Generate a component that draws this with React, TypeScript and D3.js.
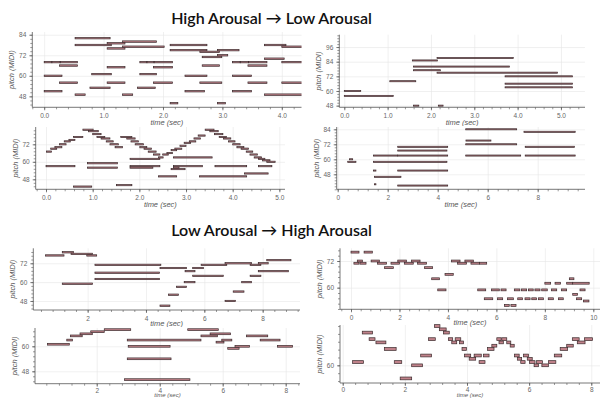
import React, { useEffect, useRef } from 'react';
import * as d3 from 'd3';

type Note = [number, number, number]; // start (sec), end (sec), pitch (MIDI)

// High -> Low arousal, top-left
const hlA: Note[] = [
  [0.52, 1.11, 82], [1.06, 1.36, 79], [1.32, 1.89, 80],
  [0.52, 1.13, 78], [2.12, 2.74, 78], [3.71, 4.07, 78],
  [1.32, 2.02, 77], [4.0, 4.4, 77], [1.06, 1.36, 76],
  [2.12, 2.74, 75], [2.92, 3.28, 75], [2.62, 2.95, 74],
  [2.92, 3.09, 72], [2.66, 2.99, 71], [3.71, 4.04, 70],
  [0, 0.13, 68], [0.13, 0.27, 68], [0.27, 0.56, 68],
  [1.61, 1.73, 68], [1.73, 1.85, 68], [1.85, 2.16, 68],
  [3.17, 3.3, 68], [3.3, 3.44, 68], [3.44, 3.75, 68], [4.0, 4.4, 68],
  [0.26, 0.56, 66], [2.66, 2.95, 66], [3.43, 3.75, 66],
  [1.06, 1.36, 65], [1.84, 2.16, 65],
  [0.8, 1.13, 61], [1.61, 1.89, 61],
  [0, 0.3, 60], [2.37, 2.74, 60], [3.17, 3.49, 60],
  [0.26, 0.56, 56], [1.06, 1.36, 56], [1.84, 2.16, 56], [2.62, 2.99, 56], [3.43, 3.75, 56], [4.0, 4.4, 56],
  [0.77, 1.11, 53], [1.57, 1.87, 53],
  [0, 0.3, 51], [2.37, 2.7, 51], [3.17, 3.49, 51],
  [0.52, 0.69, 49], [1.32, 1.49, 49], [3.71, 4.4, 49],
  [2.12, 2.25, 44], [2.92, 3.05, 44],
];

// High -> Low arousal, top-right
const hlB: Note[] = [
  [0, 0.38, 60], [0, 1.13, 56], [1.05, 1.65, 68],
  [1.6, 1.72, 48], [2.17, 2.28, 48],
  [1.57, 2.15, 85], [2.14, 3.9, 87], [1.6, 3.81, 80], [1.6, 2.22, 77],
  [2.14, 4.92, 75], [3.71, 5.27, 72], [3.71, 5.27, 66], [3.71, 5.27, 63],
];

// High -> Low arousal, middle-left
const hlC: Note[] = [
  [0.01, 0.12, 67], [0.1, 0.23, 69], [0.19, 0.34, 70], [0.29, 0.43, 72],
  [0.39, 0.52, 74], [0.49, 0.62, 75], [0.59, 0.79, 77], [0.79, 1.01, 82],
  [0.91, 1.12, 81], [1.0, 1.18, 79], [1.09, 1.26, 77], [1.18, 1.37, 76],
  [1.29, 1.44, 74], [1.37, 1.55, 72], [1.48, 1.64, 70],
  [1.6, 1.84, 77], [1.73, 1.91, 76], [1.82, 1.98, 74], [1.91, 2.09, 72],
  [2.01, 2.16, 70], [2.1, 2.26, 69], [2.19, 2.36, 67], [2.3, 2.44, 65], [2.41, 2.51, 63],
  [2.5, 2.62, 65], [2.59, 2.71, 66], [2.68, 2.8, 68], [2.76, 2.91, 69],
  [2.87, 3.0, 71], [2.96, 3.1, 73], [3.07, 3.21, 74], [3.17, 3.31, 76],
  [3.26, 3.41, 78], [3.41, 3.6, 82],
  [3.51, 3.69, 81], [3.61, 3.79, 79], [3.71, 3.87, 77], [3.8, 3.96, 76],
  [3.91, 4.05, 74], [4.0, 4.16, 72], [4.09, 4.24, 70], [4.18, 4.34, 69],
  [4.29, 4.43, 67], [4.37, 4.53, 65], [4.46, 4.62, 63], [4.55, 4.69, 62],
  [4.64, 4.8, 61], [4.73, 4.91, 60],
  [0, 0.62, 57], [0.89, 1.53, 59], [0.89, 1.53, 56],
  [1.8, 2.44, 62], [1.8, 2.44, 57], [1.8, 2.29, 56],
  [2.73, 3.56, 63], [2.73, 3.35, 57], [2.73, 2.85, 56], [2.68, 2.98, 55],
  [2.41, 2.8, 50], [3.29, 4.3, 50], [4.25, 4.76, 52],
  [3.62, 4.3, 57], [4.55, 4.84, 57],
  [0.59, 0.98, 43], [1.51, 1.84, 44],
];

// High -> Low arousal, middle-right
const hlD: Note[] = [
  [0.47, 0.6, 60], [0.4, 0.73, 58],
  [1.43, 2.4, 63], [2.4, 4.4, 63], [1.43, 4.37, 58],
  [2.4, 4.4, 70], [2.4, 4.37, 67],
  [1.43, 1.53, 51], [2.4, 4.4, 51], [1.47, 2.53, 46],
  [1.47, 1.53, 40], [2.4, 4.4, 39],
  [5.12, 7.16, 84], [5.13, 6.13, 75], [5.12, 7.16, 72], [5.12, 7.32, 63],
  [7.45, 9.5, 82], [7.5, 9.47, 70], [7.5, 9.5, 63],
];

// Low -> High arousal, upper-left
const lhA: Note[] = [
  [0.56, 1.19, 77], [1.13, 1.51, 79], [1.43, 2.17, 78], [1.97, 2.31, 77],
  [2.25, 4.51, 71], [2.25, 4.46, 66], [2.25, 4.46, 62], [1.13, 2.17, 59],
  [4.48, 5.39, 69], [5.34, 5.68, 67], [5.6, 5.97, 69], [5.89, 6.77, 71],
  [5.6, 6.65, 64], [5.31, 5.68, 60], [5.05, 5.39, 57], [4.77, 5.11, 52],
  [4.48, 4.82, 45], [6.71, 7.62, 72], [6.71, 7.07, 48], [6.99, 7.36, 54],
  [7.28, 7.62, 60], [7.57, 7.94, 71], [7.57, 7.94, 64], [7.85, 8.19, 72],
  [7.85, 8.88, 67], [8.14, 8.97, 74],
];

// Low -> High arousal, upper-right
const lhB: Note[] = [
  [0, 0.33, 76], [0.12, 0.33, 71], [0.26, 0.47, 72], [0.37, 0.62, 71],
  [0.54, 0.88, 76], [0.83, 1.17, 72], [1.09, 1.47, 71], [1.38, 1.75, 69],
  [1.65, 2.0, 71], [1.93, 2.29, 72], [2.2, 2.57, 71], [2.5, 2.85, 72],
  [2.75, 3.12, 71], [3.03, 3.37, 69], [3.33, 3.65, 64], [3.58, 3.92, 59],
  [3.88, 4.22, 66], [4.15, 4.5, 72], [4.4, 4.77, 71], [4.7, 5.05, 72],
  [4.95, 5.3, 71], [5.3, 5.6, 71],
  [5.23, 5.56, 59], [5.5, 5.85, 55], [5.8, 6.12, 59], [6.05, 6.26, 55],
  [6.19, 6.4, 59], [6.33, 6.53, 52], [6.46, 6.7, 55], [6.6, 6.81, 52],
  [6.74, 6.97, 59], [6.88, 7.08, 55], [7.04, 7.25, 59], [7.18, 7.39, 55],
  [7.32, 7.52, 59], [7.46, 7.66, 55], [7.59, 7.8, 59], [7.73, 7.94, 55],
  [7.87, 8.1, 59], [8.0, 8.24, 62], [8.14, 8.35, 55], [8.28, 8.49, 59],
  [8.42, 8.65, 62], [8.56, 8.76, 55], [8.69, 8.9, 59], [8.9, 9.15, 62],
  [9.01, 9.2, 64], [9.15, 9.83, 62], [9.15, 9.35, 57], [9.31, 9.52, 55],
  [9.45, 9.66, 59], [9.59, 9.82, 54],
];

// Low -> High arousal, lower-left
const lhC: Note[] = [
  [0.44, 1.13, 61], [1.05, 1.23, 63], [1.17, 1.54, 65], [1.47, 1.86, 66],
  [1.81, 2.24, 67], [2.24, 3.08, 68], [2.97, 5.31, 63], [3.0, 4.33, 60],
  [2.97, 4.36, 54], [2.88, 4.96, 44], [4.89, 5.86, 68], [5.31, 5.83, 65],
  [5.6, 6.25, 66], [5.79, 6.04, 62], [5.97, 6.29, 63], [6.16, 6.52, 59],
  [6.39, 6.85, 60], [6.76, 7.43, 65], [7.19, 7.82, 63], [7.74, 8.22, 60],
];

// Low -> High arousal, lower-right
const lhD: Note[] = [
  [0.32, 0.67, 61], [0.63, 0.96, 70], [0.85, 1.04, 68], [1.07, 1.39, 67],
  [1.34, 1.72, 65], [1.66, 1.9, 61], [1.85, 2.22, 56], [2.22, 2.57, 60],
  [2.51, 2.86, 63], [2.76, 2.98, 68], [2.95, 3.13, 72], [3.11, 3.33, 71],
  [3.24, 3.43, 70], [3.4, 3.54, 68], [3.51, 3.67, 67], [3.62, 3.8, 68],
  [3.76, 3.89, 67], [3.84, 3.98, 65], [3.92, 4.12, 63], [4.07, 4.28, 62],
  [4.23, 4.46, 63], [4.39, 4.58, 61], [4.53, 4.71, 63], [4.66, 4.87, 65],
  [4.8, 4.96, 66], [4.96, 5.1, 68], [5.03, 5.17, 67], [5.12, 5.28, 68],
  [5.28, 5.41, 67], [5.39, 5.52, 66], [5.53, 5.68, 63], [5.62, 5.76, 62],
  [5.73, 5.87, 61], [5.82, 5.98, 63], [5.94, 6.1, 62], [6.01, 6.19, 61],
  [6.16, 6.3, 60], [6.24, 6.43, 61], [6.41, 6.62, 60], [6.62, 6.86, 61],
  [6.81, 7.05, 63], [7.0, 7.24, 65], [7.21, 7.42, 66], [7.39, 7.61, 68],
  [7.55, 7.8, 67], [7.78, 8.04, 68],
];

const secTicks1 = [0, 1, 2, 3, 4, 5];
const secTicks2 = [0, 2, 4, 6, 8, 10];
const pitchTicks = [48, 60, 72, 84, 96];

const titles = ['High Arousal \u2192 Low Arousal', 'Low Arousal \u2192 High Arousal'];

interface Panel {
  notes: Note[];
  clip: [number, number, number, number];
  xr: [number, number];
  yr: [number, number];
  xd: [number, number];
  yd: [number, number];
  xt: number[];
  xStep: number;
  labelDy: number;
  last?: boolean;
}

const panels: Panel[] = [
  { notes: hlA, clip: [0, 29, 301.5, 128], xr: [32.3, 302], yr: [107.3, 32], xd: [-0.2, 4.34], yd: [41.6, 85.6], xt: secTicks1, xStep: 1, labelDy: 18 },
  { notes: hlB, clip: [301.5, 29, 603, 126], xr: [339.3, 585], yr: [107.3, 34.7], xd: [-0.115, 5.555], yd: [46.65, 106.1], xt: secTicks1, xStep: 1, labelDy: 18 },
  { notes: hlC, clip: [0, 126, 300, 212], xr: [35.7, 285], yr: [189.3, 127], xd: [-0.221, 5.121], yd: [41.14, 83.87], xt: secTicks1, xStep: 1, labelDy: 18 },
  { notes: hlD, clip: [300, 126, 603, 212], xr: [336.7, 585], yr: [189.3, 127], xd: [-0.04, 9.892], yd: [36, 85.84], xt: secTicks2, xStep: 2, labelDy: 18 },
  { notes: lhA, clip: [0, 244, 300, 327], xr: [33.3, 300], yr: [310, 248.3], xd: [0.137, 9.28], yd: [42.25, 81.55], xt: secTicks2, xStep: 2, labelDy: 16 },
  { notes: lhB, clip: [300, 244, 603, 327], xr: [340, 600], yr: [309.3, 248.3], xd: [-0.454, 10.276], yd: [50.26, 77.72], xt: secTicks2, xStep: 2, labelDy: 16 },
  { notes: lhC, clip: [0, 318, 300, 398], xr: [35, 300], yr: [383.7, 328], xd: [0.041, 8.454], yd: [42.05, 68.79], xt: secTicks2, xStep: 2, labelDy: 13.6, last: true },
  { notes: lhD, clip: [300, 318, 603, 398], xr: [340, 600], yr: [383, 325], xd: [-0.087, 8.281], yd: [54.6, 72.32], xt: secTicks2, xStep: 2, labelDy: 14.3, last: true },
];

const W = 603;
const H = 398;

const App: React.FC = () => {
  const svgRef = useRef<SVGSVGElement>(null);

  useEffect(() => {
    if (!svgRef.current) return;
    const svg = d3.select(svgRef.current);
    svg.selectAll('*').remove();
    svg.append('rect').attr('width', W).attr('height', H).attr('fill', '#fff');

    const colors = { grid: '#e6e6e6', axis: '#555', tick: '#666', label: '#555', fill: '#c0828a', stroke: '#3a2a2c' };
    const font = 'Liberation Sans, Arial, sans-serif';
    const defs = svg.append('defs');

    panels.forEach((p, i) => {
      const [cx0, cy0, cx1, cy1] = p.clip;
      defs.append('clipPath').attr('id', `clip${i}`)
        .append('rect').attr('x', cx0).attr('y', cy0).attr('width', cx1 - cx0).attr('height', cy1 - cy0);
      const g = svg.append('g').attr('clip-path', `url(#clip${i})`);

      const x = d3.scaleLinear().domain(p.xd).range(p.xr);
      const y = d3.scaleLinear().domain(p.yd).range(p.yr);
      const [left, right] = p.xr;
      const [bottom, top] = p.yr;

      const xMaj = p.xt.filter(t => t >= p.xd[0] && t <= p.xd[1]);
      // keep only labels that sit inside the panel
      const yMaj = pitchTicks.filter(v => v >= p.yd[0] && y(v) >= top + 2);
      const xMin = d3.range(Math.ceil(p.xd[0] / (p.xStep / 5)), Math.floor(p.xd[1] / (p.xStep / 5)) + 1).map(k => k * p.xStep / 5);
      const yMin = d3.range(Math.ceil(p.yd[0] / 2.4), Math.floor(p.yd[1] / 2.4) + 1).map(k => k * 2.4);

      // grid
      const grid = g.append('g');
      grid.append('g').attr('transform', `translate(0,${bottom})`)
        .call(d3.axisBottom(x).tickValues(xMaj).tickSize(-(bottom - top)).tickFormat(() => '').tickSizeOuter(0))
        .call(s => s.select('.domain').remove())
        .call(s => s.selectAll('line').attr('stroke', colors.grid).attr('stroke-width', 0.6));
      grid.append('g').attr('transform', `translate(${left},0)`)
        .call(d3.axisLeft(y).tickValues(yMaj).tickSize(-(right - left)).tickFormat(() => '').tickSizeOuter(0))
        .call(s => s.select('.domain').remove())
        .call(s => s.selectAll('line').attr('stroke', colors.grid).attr('stroke-width', 0.6));

      // notes
      const semi = Math.abs(y(61) - y(60));
      const nh = Math.max(semi * 0.85, 1.1);
      g.append('g').selectAll('rect').data(p.notes).join('rect')
        .attr('x', d => x(d[0]))
        .attr('y', d => y(d[2]) - nh / 2)
        .attr('width', d => Math.max(x(d[1]) - x(d[0]), 1))
        .attr('height', nh)
        .attr('fill', colors.fill)
        .attr('stroke', colors.stroke)
        .attr('stroke-width', 0.7);

      // minor ticks
      g.append('g').attr('transform', `translate(0,${bottom})`)
        .call(d3.axisBottom(x).tickValues(xMin).tickSize(2).tickFormat(() => '').tickSizeOuter(0))
        .call(s => s.select('.domain').remove())
        .call(s => s.selectAll('line').attr('stroke', colors.axis).attr('stroke-width', 0.6));
      g.append('g').attr('transform', `translate(${left},0)`)
        .call(d3.axisLeft(y).tickValues(yMin).tickSize(2).tickFormat(() => '').tickSizeOuter(0))
        .call(s => s.select('.domain').remove())
        .call(s => s.selectAll('line').attr('stroke', colors.axis).attr('stroke-width', 0.6));

      // major axes
      const xa = g.append('g').attr('transform', `translate(0,${bottom})`)
        .call(d3.axisBottom(x).tickValues(xMaj).tickSize(3).tickPadding(p.last ? 1.2 : 3).tickSizeOuter(0));
      xa.select('.domain').attr('stroke', colors.axis).attr('stroke-width', 0.8).attr('d', `M${left},0H${right}`);
      xa.selectAll('line').attr('stroke', colors.axis).attr('stroke-width', 0.7);
      xa.selectAll('text').attr('fill', colors.tick).style('font-family', font).style('font-size', '6.5px');

      const ya = g.append('g').attr('transform', `translate(${left},0)`)
        .call(d3.axisLeft(y).tickValues(yMaj).tickSize(3).tickPadding(3).tickSizeOuter(0));
      ya.select('.domain').attr('stroke', colors.axis).attr('stroke-width', 0.8).attr('d', `M0,${bottom}V${top}`);
      ya.selectAll('line').attr('stroke', colors.axis).attr('stroke-width', 0.7);
      ya.selectAll('text').attr('fill', colors.tick).style('font-family', font).style('font-size', '6.5px');

      // axis labels
      g.append('text').attr('x', (left + Math.min(right, cx1)) / 2).attr('y', bottom + p.labelDy)
        .attr('text-anchor', 'middle').attr('fill', colors.label)
        .style('font-family', font).style('font-size', p.last ? '6px' : '7.5px').style('font-style', 'italic')
        .text('time (sec)');
      g.append('text').attr('transform', `translate(${left - 18},${(top + bottom) / 2}) rotate(-90)`)
        .attr('text-anchor', 'middle').attr('fill', colors.label)
        .style('font-family', font).style('font-size', '7.5px').style('font-style', 'italic')
        .text('pitch (MIDI)');
    });

    // section titles
    [24, 236].forEach((yy, i) => {
      svg.append('text').attr('x', 271.5).attr('y', yy).attr('text-anchor', 'middle')
        .attr('fill', '#111')
        .style('font-family', 'Lato, sans-serif').style('font-weight', '600').style('font-size', '16px')
        .text(titles[i]);
    });
  }, []);

  return (
    <svg ref={svgRef} width={W} height={H} viewBox={`0 0 ${W} ${H}`}
      style={{ position: 'fixed', left: 0, top: 0, display: 'block' }} />
  );
};

export default App;
